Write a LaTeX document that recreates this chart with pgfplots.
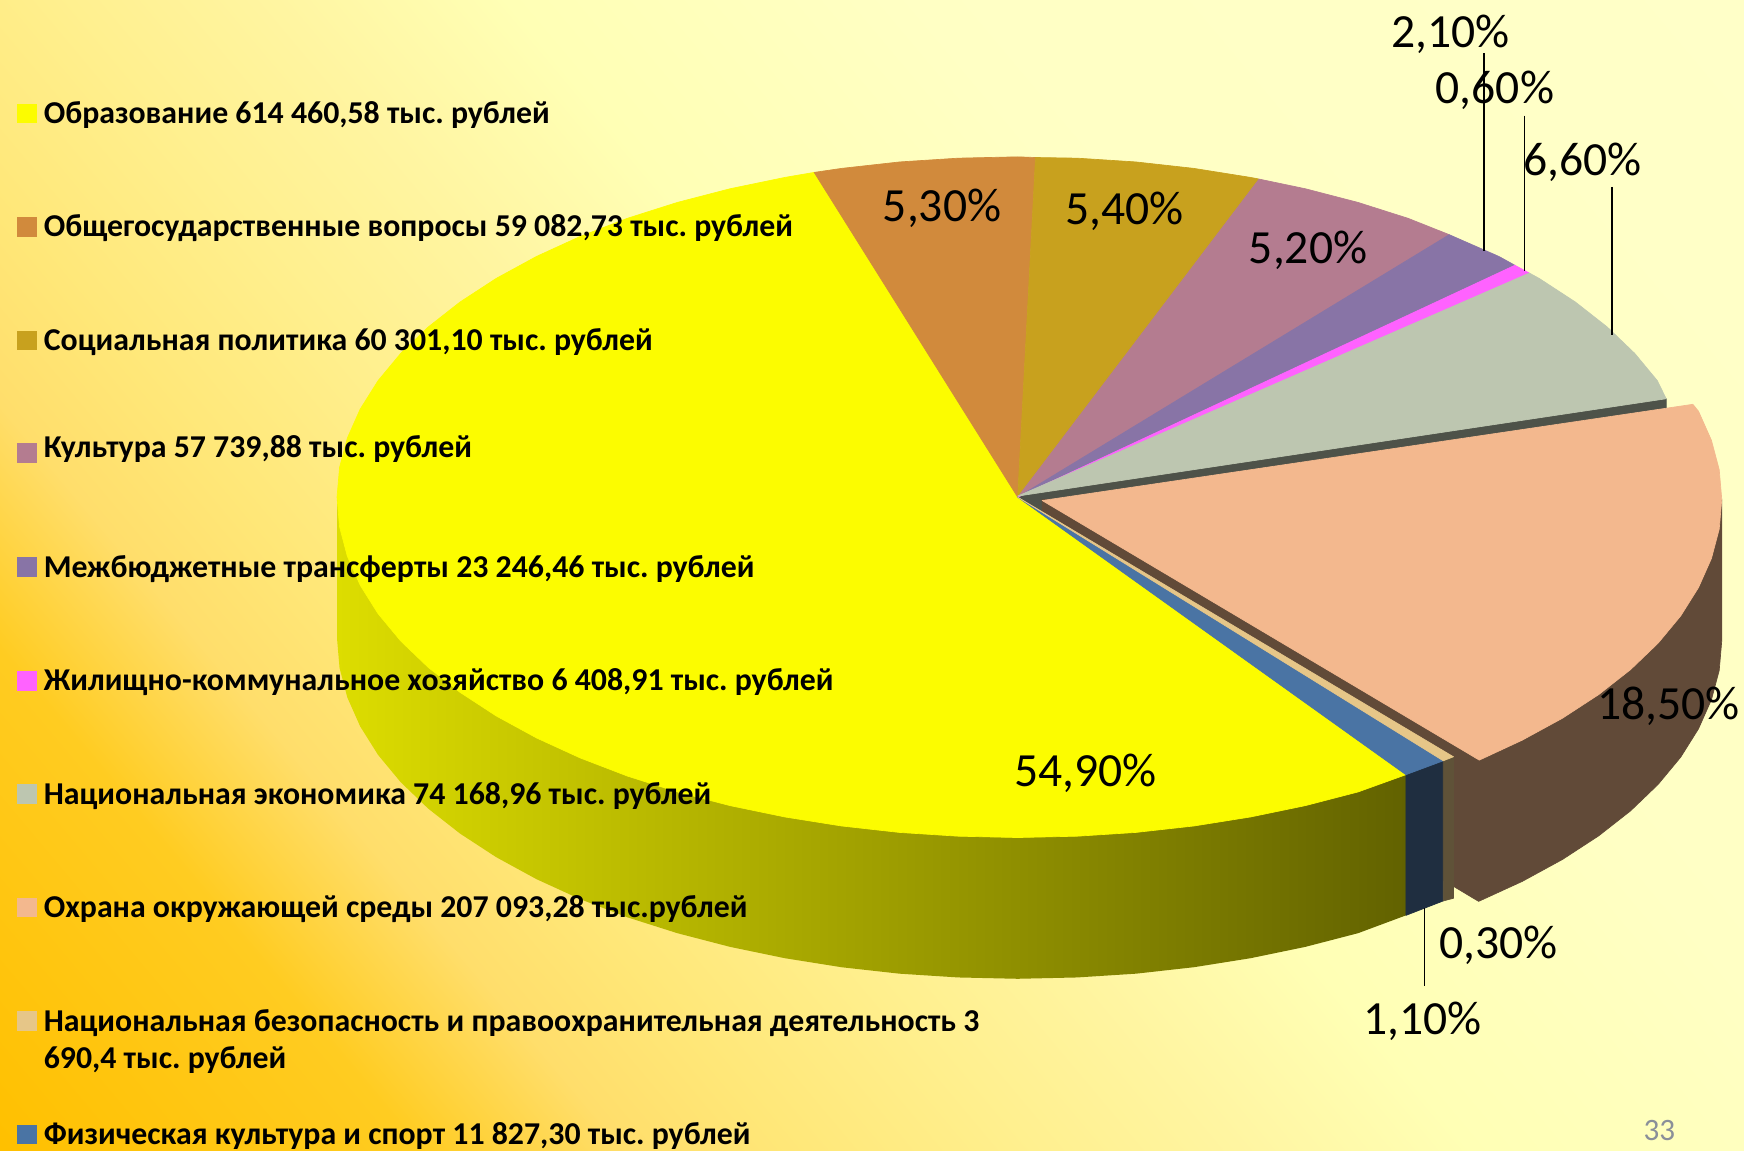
\documentclass[border=0pt]{standalone}
\usepackage{fontspec}
\setmainfont{Carlito}
\usepackage{pgfplots}
\pgfplotsset{compat=1.18}
\frenchspacing

% background, rotated shading: the corners land at about 15bp and 85bp
\pgfdeclareverticalshading{bgdiag}{100bp}{
  rgb(0bp)=(1,.753,0); rgb(14.8bp)=(1,.753,0); rgb(25.6bp)=(1,.80,.13); rgb(31bp)=(1,.87,.42);
  rgb(35.2bp)=(1,.906,.47); rgb(41.6bp)=(1,.94,.56); rgb(46.9bp)=(1,.96,.63); rgb(53.1bp)=(1,1,.71);
  rgb(64bp)=(1,1,.77); rgb(85.2bp)=(1,1,.784); rgb(100bp)=(1,1,.784)}

\definecolor{cEdu}{HTML}{FCFC00}
\definecolor{cGov}{HTML}{D18A3C}
\definecolor{cSoc}{HTML}{C8A11E}
\definecolor{cCul}{HTML}{B47C90}
\definecolor{cTra}{HTML}{8874A6}
\definecolor{cZhk}{HTML}{FF62FF}
\definecolor{cEco}{HTML}{BDC6B0}
\definecolor{cEnv}{HTML}{F3B88E}
\definecolor{cSec}{HTML}{E6C688}
\definecolor{cSpo}{HTML}{4A74A4}
\definecolor{sEco}{HTML}{4E5249}
\definecolor{sEnv}{HTML}{614A38}
\definecolor{sSpo}{HTML}{1F2E40}
\definecolor{sSec}{HTML}{5F5238}
\definecolor{sEduL}{HTML}{DDDD00}
\definecolor{sEduM}{HTML}{A5A500}
\definecolor{sEduR}{HTML}{626200}
\definecolor{pageno}{HTML}{8A8F99}

\tikzset{
  wedge/.style={fill=#1,draw=#1,line width=.3pt,line join=round},
  pct/.style={font=\fontsize{21.4}{24}\selectfont,text=black,inner sep=0pt},
  lgd/.style={anchor=base west,font=\fontsize{14.3}{17}\selectfont\bfseries,text=black,inner sep=0pt},
  leader/.style={black,line width=.8pt},
  box/.style={only marks,mark=square*,mark size=4.2pt,mark options={fill=#1,draw=#1,line width=0pt}},
}

\begin{document}
\begin{tikzpicture}
\begin{axis}[
    scale only axis,
    width=784pt, height=517pt,
    xmin=0, xmax=1568, ymin=0, ymax=1034,
    y dir=reverse,
    hide axis,
    clip=true,
]
% background
\addplot[shade,shading=bgdiag,shading angle=-50,draw=none]
  coordinates {(0,0) (1568,0) (1568,1034) (0,1034)} --cycle;

% green slice, cut face
\addplot[wedge=sEco] coordinates {(915,446) (1498,358.5) (1498,486) (915,574)} --cycle;

% exploded slice: side and cut face
\addplot[wedge=sEnv] coordinates {
  (937,449) (937,576) (1329.4,810.4) (1368.7,792.4) (1404.8,772.7) (1437.3,751.5)
  (1466,729) (1490.7,705.3) (1511.1,680.7) (1527.1,655.2) (1538.7,629.1)
  (1545.7,602.7) (1548,576) (1548,449)} --cycle;
% exploded slice: top
\addplot[wedge=cEnv] coordinates {
  (937,450) (1522,363.5) (1527.1,369.8) (1538.7,395.9) (1545.7,422.3) (1548,449)
  (1545.7,475.7) (1538.7,502.1) (1527.1,528.2) (1511.1,553.7) (1490.7,578.3)
  (1466,602) (1437.3,624.5) (1404.8,645.7) (1368.7,665.4) (1330,683.4)} --cycle;

% yellow side
\addplot[left color=sEduL,middle color=sEduM,right color=sEduR,draw=none] coordinates {
  (303,447) (303,574) (305.3,600.7) (312.3,627.1) (323.9,653.2) (339.9,678.7)
  (360.3,703.3) (385,727) (413.7,749.5) (446.2,770.7) (482.3,790.4) (521.6,808.4)
  (564,824.7) (609,839) (656.4,851.3) (705.7,861.5) (756.6,869.6) (808.7,875.4)
  (861.6,878.8) (915,880) (968.4,878.8) (1021.3,875.4) (1073.4,869.6) (1124.3,861.5)
  (1173.6,851.3) (1221,839) (1264,823) (1264,696.5) (915,447)} --cycle;
% small slices, side
\addplot[wedge=sSpo] coordinates {(1264,696.5) (1264,823) (1297.6,810) (1297.6,684)} --cycle;
\addplot[wedge=sSec] coordinates {(1297.6,684) (1297.6,810) (1306.8,807.6) (1306.8,680.4)} --cycle;

% tops
\addplot[wedge=cEdu] coordinates {
  (915,447) (732,155) (705.7,159.5) (656.4,169.7) (609,182) (564,196.3) (521.6,212.6)
  (482.3,230.6) (446.2,250.3) (413.7,271.5) (385,294) (360.3,317.7) (339.9,342.3)
  (323.9,367.8) (312.3,393.9) (305.3,420.3) (303,447) (305.3,473.7) (312.3,500.1)
  (323.9,526.2) (339.9,551.7) (360.3,576.3) (385,600) (413.7,622.5) (446.2,643.7)
  (482.3,663.4) (521.6,681.4) (564,697.7) (609,712) (656.4,724.3) (705.7,734.5)
  (756.6,742.6) (808.7,748.4) (861.6,751.8) (915,753) (968.4,751.8) (1021.3,748.4)
  (1073.4,742.6) (1124.3,734.5) (1173.6,724.3) (1221,712) (1264,696.5)} --cycle;
\addplot[wedge=cGov] coordinates {(915,447) (732,155) (756.6,151.4) (808.7,145.6) (861.6,142.2) (915,141) (931,141.6)} --cycle;
\addplot[wedge=cSoc] coordinates {(915,447) (931,141.6) (968.4,142.2) (1021.3,145.6) (1073.4,151.4) (1124.3,159.5) (1132,161)} --cycle;
\addplot[wedge=cCul] coordinates {(915,447) (1132,161) (1173.6,169.7) (1221,182) (1266,196.3) (1303,211)} --cycle;
\addplot[wedge=cTra] coordinates {(915,447) (1303,211) (1347.7,230.6) (1362,238.5)} --cycle;
\addplot[wedge=cZhk] coordinates {(915,447) (1362,238.5) (1375,245.5)} --cycle;
\addplot[wedge=cEco] coordinates {(915,446) (1375,245.5) (1383.8,250.3) (1416.3,271.5) (1445,294) (1469.7,317.7) (1490.1,342.3) (1498,358.5)} --cycle;
\addplot[wedge=cSpo] coordinates {(915,447) (1264,696.5) (1297.6,684)} --cycle;
\addplot[wedge=cSec] coordinates {(915,447) (1297.6,684) (1306.8,680.4)} --cycle;

% leader lines
\addplot[leader] coordinates {(1334,48) (1334,226)};
\addplot[leader] coordinates {(1370.6,104) (1370.6,244)};
\addplot[leader] coordinates {(1449,168) (1449,301)};
\addplot[leader] coordinates {(1280.7,816.6) (1280.7,886.6)};

% legend boxes
\addplot[box=cEdu] coordinates {(24.5,102)};
\addplot[box=cGov] coordinates {(24.5,204)};
\addplot[box=cSoc] coordinates {(24.5,306)};
\addplot[box=cCul] coordinates {(24.5,407)};
\addplot[box=cTra] coordinates {(24.5,510)};
\addplot[box=cZhk] coordinates {(24.5,612)};
\addplot[box=cEco] coordinates {(24.5,714)};
\addplot[box=cEnv] coordinates {(24.5,816)};
\addplot[box=cSec] coordinates {(24.5,918)};
\addplot[box=cSpo] coordinates {(24.5,1020)};

% percentages
\node[pct] at (axis cs:1304,31) {2,10\%};
\node[pct] at (axis cs:1344,81) {0,60\%};
\node[pct] at (axis cs:1423,146) {6,60\%};
\node[pct] at (axis cs:847,187) {5,30\%};
\node[pct] at (axis cs:1011,190) {5,40\%};
\node[pct] at (axis cs:1176,225) {5,20\%};
\node[pct] at (axis cs:1500,635) {18,50\%};
\node[pct] at (axis cs:976,695) {54,90\%};
\node[pct] at (axis cs:1347,850) {0,30\%};
\node[pct] at (axis cs:1279,918) {1,10\%};
\node[font=\fontsize{14}{16}\selectfont,text=pageno,inner sep=0pt] at (axis cs:1492,1016) {33};

% legend texts
\node[lgd] at (axis cs:39,111) {Образование 614 460,58 тыс. рублей};
\node[lgd] at (axis cs:39,213) {Общегосударственные вопросы 59 082,73 тыс. рублей};
\node[lgd] at (axis cs:39,315) {Социальная политика 60 301,10 тыс. рублей};
\node[lgd] at (axis cs:39,411) {Культура 57 739,88 тыс. рублей};
\node[lgd] at (axis cs:39,519) {Межбюджетные трансферты 23 246,46 тыс. рублей};
\node[lgd] at (axis cs:39,621) {Жилищно-коммунальное хозяйство 6 408,91 тыс. рублей};
\node[lgd] at (axis cs:39,723) {Национальная экономика 74 168,96 тыс. рублей};
\node[lgd] at (axis cs:39,825) {Охрана окружающей среды 207 093,28 тыс.рублей};
\node[lgd] at (axis cs:39,927) {Национальная безопасность и правоохранительная деятельность 3};
\node[lgd] at (axis cs:39,961) {690,4 тыс. рублей};
\node[lgd] at (axis cs:39,1029) {Физическая культура и спорт 11 827,30 тыс. рублей};
\end{axis}
\end{tikzpicture}
\end{document}
